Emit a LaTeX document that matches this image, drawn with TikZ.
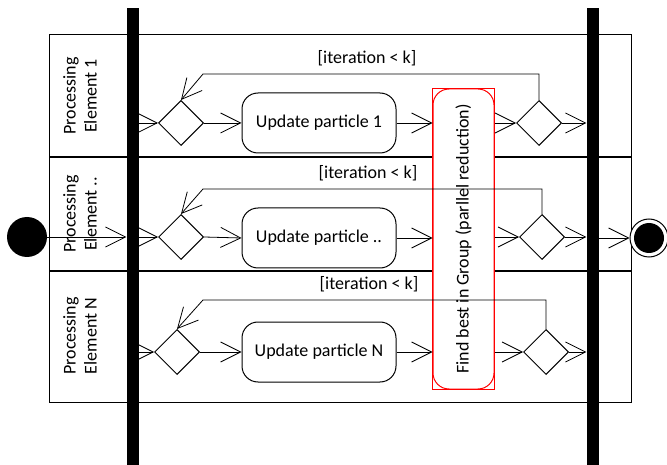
\documentclass[tikz,border=0pt]{standalone}
\usepackage{fontspec}
\setmainfont{Carlito}
\usetikzlibrary{shapes.geometric,arrows.meta,calc}
\begin{document}
\begin{tikzpicture}[x=1pt,y=-1pt,
  every node/.style={font=\fontsize{18}{21}\selectfont},
  flow/.style={line width=0.8pt,-{Straight Barb[length=20pt,width=20pt,line width=0.8pt]}},
  plain/.style={line width=0.8pt},
  bar/.style={fill=black,draw=none,minimum width=12pt,minimum height=457pt,inner sep=0pt},
  dec/.style={diamond,draw,line width=1pt,inner sep=0pt,minimum size=45pt,fill=white},
  act/.style={rectangle,draw,line width=1pt,rounded corners=16pt,minimum width=154pt,minimum height=60pt,inner sep=0pt},
  lanelabel/.style={rotate=90,align=center,inner sep=0pt},
  guard/.style={inner sep=0pt}
]
\useasboundingbox (0,0) rectangle (667,465);
% swimlane frame
\draw[line width=1pt] (49,35) rectangle (631,402);
\draw[line width=1.6pt] (49,157) -- (631,157);
\draw[line width=1.6pt] (49,271) -- (631,271);
\draw[line width=1pt] (127,35) -- (127,402);
\node[lanelabel] (l1) at (80,96) {Processing\\Element 1};
\node[lanelabel] (l2) at (80,214) {Processing\\Element ..};
\node[lanelabel] (l3) at (80,336) {Processing\\Element N};
% bars
\node[bar] (barL) at (132.5,236.5) {};
\node[bar] (barR) at (592.5,236.5) {};
% initial / final
\node[circle,fill=black,minimum size=40pt,inner sep=0pt] (init) at (27,237) {};
\node[circle,draw,line width=1pt,fill=white,minimum size=38pt,inner sep=0pt] (final) at (649,238) {};
\fill (final.center) circle (15pt);
% reduction box
\node[rectangle,draw=red,line width=1pt,fill=white,rounded corners=16pt,minimum width=61pt,minimum height=300pt,inner sep=0pt] (fbox) at (463.5,239) {};
\draw[red,line width=0.8pt] (fbox.south west) rectangle (fbox.north east);
\node[rotate=90,inner sep=0pt] (ftxt) at (fbox.center) {Find best in Group (parllel reduction)};
% decisions
\node[dec] (d1) at (181,123) {};
\node[dec] (d2) at (181,237) {};
\node[dec] (d3) at (177,352) {};
\node[dec] (r1) at (539,123) {};
\node[dec] (r2) at (542,237) {};
\node[dec] (r3) at (546,352) {};
% activities
\node[act] (u1) at (319,123) {Update particle 1};
\node[act] (u2) at (319,238) {Update particle ..};
\node[act] (u3) at (319,352) {Update particle N};
% loop corners
\coordinate (k1) at (203,74);
\coordinate (k2) at (203,189);
\coordinate (k3) at (203,300);
% guards
\node[guard] (g1) at (367,58) {[iteration < k]};
\node[guard] (g2) at (368,173) {[iteration < k]};
\node[guard] (g3) at (369,284) {[iteration < k]};
% flows
\draw[flow] (init.east) -- (init.east -| barL.west);
\draw[flow] (barR.east |- final.west) -- (final.west);
\foreach \i in {1,2,3}{
  \draw[flow] (barL.east |- d\i.west) -- (d\i.west);
  \draw[flow] (d\i.east) -- (u\i.west);
  \draw[flow] (u\i.east) -- (u\i.east -| fbox.west);
  \draw[flow] (fbox.east |- r\i.west) -- (r\i.west);
  \draw[flow] (r\i.east) -- (r\i.east -| barR.west);
  \draw[flow] (r\i.north) |- (k\i) -- (d\i.north);
}
\end{tikzpicture}
\end{document}
